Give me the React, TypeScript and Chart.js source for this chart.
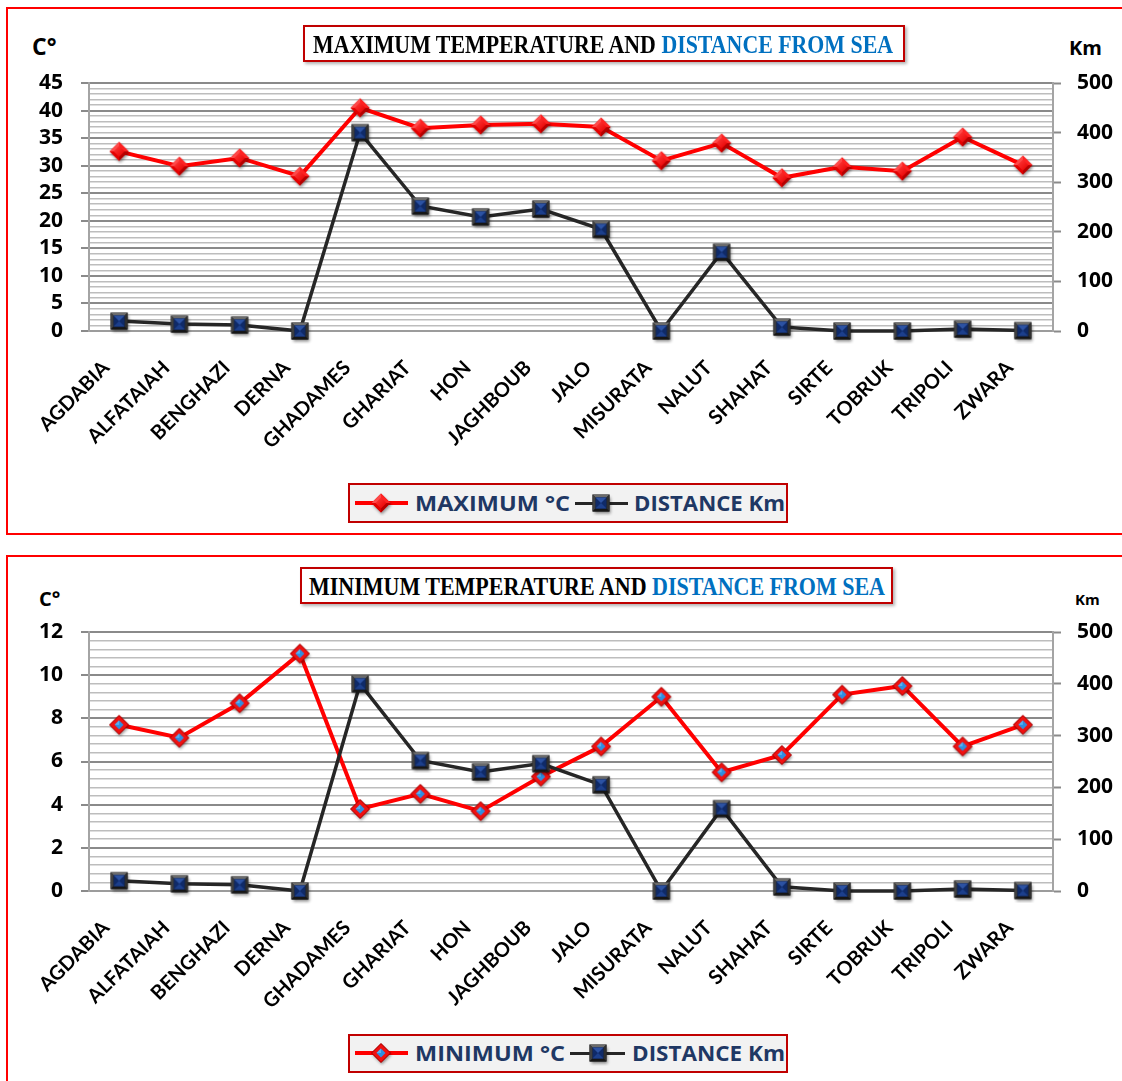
import React, { useEffect, useLayoutEffect, useMemo, useRef } from 'react';
import { Chart, registerables } from 'chart.js';

Chart.register(...registerables);

// ---------- DATA ----------
const cities = [
  'AGDABIA', 'ALFATAIAH', 'BENGHAZI', 'DERNA', 'GHADAMES', 'GHARIAT', 'HON', 'JAGHBOUB',
  'JALO', 'MISURATA', 'NALUT', 'SHAHAT', 'SIRTE', 'TOBRUK', 'TRIPOLI', 'ZWARA',
];
const maxTempC = [32.6, 29.9, 31.4, 28.1, 40.5, 36.8, 37.4, 37.6, 37.0, 30.9, 34.1, 27.8, 29.8, 29.0, 35.2, 30.1];
const minTempC = [7.7, 7.1, 8.7, 11.0, 3.8, 4.5, 3.7, 5.3, 6.7, 9.0, 5.5, 6.3, 9.1, 9.5, 6.7, 7.7];
const distanceKm = [20, 14, 12, 0, 400, 252, 230, 246, 205, 0, 159, 8, 0, 0, 4, 1];

const maxTempTicks = [0, 5, 10, 15, 20, 25, 30, 35, 40, 45];
const minTempTicks = [0, 2, 4, 6, 8, 10, 12];
const distanceTicks = [0, 100, 200, 300, 400, 500];

const FONT = 'Lato, "Open Sans", sans-serif';
const HEAVY = '"Open Sans", Lato, sans-serif';
const SERIF = '"Liberation Serif", "DejaVu Serif", serif';

type MarkerKind = 'diamond' | 'diamondBlue' | 'square';

function makeMarker(kind: MarkerKind): HTMLCanvasElement {
  const S = 26;
  const c = document.createElement('canvas');
  c.width = S;
  c.height = S;
  const g = c.getContext('2d')!;
  const cx = 13, cy = 13;
  const tri = (pts: number[], col: string) => {
    g.beginPath();
    g.moveTo(pts[0], pts[1]);
    for (let i = 2; i < pts.length; i += 2) g.lineTo(pts[i], pts[i + 1]);
    g.closePath();
    g.fillStyle = col;
    g.fill();
  };
  if (kind === 'square') {
    const h = 8.5;
    const x0 = cx - h, y0 = cy - h, x1 = cx + h, y1 = cy + h;
    g.save();
    g.shadowColor = 'rgba(0,0,0,0.45)';
    g.shadowBlur = 3;
    g.shadowOffsetX = 1;
    g.shadowOffsetY = 2;
    g.fillStyle = '#1c1c1c';
    g.fillRect(x0, y0, 2 * h, 2 * h);
    g.restore();
    const b = 3;
    tri([x0, y0, x1, y0, x1 - b, y0 + b, x0 + b, y0 + b], '#6b6b6b');
    tri([x0, y0, x0 + b, y0 + b, x0 + b, y1 - b, x0, y1], '#404040');
    tri([x1, y0, x1, y1, x1 - b, y1 - b, x1 - b, y0 + b], '#2e2e2e');
    tri([x0, y1, x0 + b, y1 - b, x1 - b, y1 - b, x1, y1], '#161616');
    const ix0 = x0 + b, iy0 = y0 + b, ix1 = x1 - b, iy1 = y1 - b;
    g.fillStyle = '#0f2a68';
    g.fillRect(ix0, iy0, ix1 - ix0, iy1 - iy0);
    tri([ix0, iy0, ix1, iy0, cx, cy], '#2c52a3');
    tri([ix0, iy1, ix1, iy1, cx, cy], '#1c3f8c');
    return c;
  }
  const r = 9.5;
  const dpath = (rr: number) => {
    g.beginPath();
    g.moveTo(cx, cy - rr);
    g.lineTo(cx + rr, cy);
    g.lineTo(cx, cy + rr);
    g.lineTo(cx - rr, cy);
    g.closePath();
  };
  g.save();
  g.shadowColor = 'rgba(0,0,0,0.4)';
  g.shadowBlur = 3;
  g.shadowOffsetX = 1;
  g.shadowOffsetY = 2;
  dpath(r);
  g.fillStyle = '#d40000';
  g.fill();
  g.restore();
  if (kind === 'diamond') {
    tri([cx - r, cy, cx, cy - r, cx, cy], '#ff4a4a');
    tri([cx, cy - r, cx + r, cy, cx, cy], '#ff2222');
    tri([cx - r, cy, cx, cy + r, cx, cy], '#e40000');
    tri([cx + r, cy, cx, cy + r, cx, cy], '#b50000');
    const gr = g.createLinearGradient(cx - 5, cy - 5, cx + 5, cy + 5);
    gr.addColorStop(0, '#ff3a3a');
    gr.addColorStop(1, '#e60000');
    dpath(5.5);
    g.fillStyle = gr;
    g.fill();
  } else {
    dpath(r);
    g.fillStyle = '#f01010';
    g.fill();
    g.lineWidth = 1;
    g.strokeStyle = '#a00000';
    g.stroke();
    dpath(4.5);
    g.fillStyle = '#2d8fe2';
    g.fill();
    tri([cx - 4.5, cy, cx, cy - 4.5, cx, cy], '#5ab0f0');
  }
  return c;
}

interface ChartProps {
  temps: number[];
  tempTicks: number[];
  minorStep: number;
  tempName: string;
  diamond: HTMLCanvasElement;
  square: HTMLCanvasElement;
  top: number;
  height: number;
}

function TempDistanceChart({ temps, tempTicks, minorStep, tempName, diamond, square, top, height }: ChartProps) {
  const ref = useRef<HTMLCanvasElement>(null);
  useEffect(() => {
    const isMajor = (v: number) => tempTicks.some((t) => Math.abs(t - v) < 1e-6);
    const isDist = (v: number) => distanceTicks.some((t) => Math.abs(t - v) < 1e-6);
    const tickFont = { family: HEAVY, weight: 'bold' as const, size: 21 };
    const noPadY = (s: any) => {
      s.paddingTop = 0;
      s.paddingBottom = 0;
    };
    const chart = new Chart(ref.current!, {
      type: 'line',
      data: {
        labels: cities,
        datasets: [
          {
            label: tempName,
            data: temps,
            yAxisID: 'yT',
            borderColor: '#ff0000',
            borderWidth: 4,
            pointStyle: diamond as any,
            pointRadius: 5,
            tension: 0,
            fill: false,
            clip: false as any,
            order: 2,
          },
          {
            label: 'DISTANCE Km',
            data: distanceKm,
            yAxisID: 'yD',
            borderColor: '#262626',
            borderWidth: 3.5,
            pointStyle: square as any,
            pointRadius: 5,
            tension: 0,
            fill: false,
            clip: false as any,
            order: 1,
          },
        ],
      },
      options: {
        responsive: false,
        animation: false,
        events: [],
        layout: { padding: { top: 20, left: 0, right: 0, bottom: 0 } },
        plugins: { legend: { display: false }, tooltip: { enabled: false }, title: { display: false } },
        scales: {
          x: {
            type: 'category',
            offset: true,
            grid: { display: false, drawTicks: false },
            border: { display: true, color: '#9c9c9c', width: 2 },
            ticks: {
              autoSkip: false,
              minRotation: 45,
              maxRotation: 45,
              padding: 25,
              labelOffset: -13,
              color: '#000',
              font: { family: FONT, weight: 'bold', size: 20 },
            },
            afterFit: (s: any) => {
              s.height = 139;
              s.paddingLeft = 0;
              s.paddingRight = 0;
            },
          },
          yT: {
            type: 'linear',
            position: 'left',
            min: tempTicks[0],
            max: tempTicks[tempTicks.length - 1],
            ticks: {
              stepSize: minorStep,
              autoSkip: false,
              padding: 18,
              color: '#000',
              font: tickFont,
              callback: (v: any) => (isMajor(Number(v)) ? String(Math.round(Number(v))) : ''),
            },
            grid: {
              color: (c: any) => (isMajor(c.tick.value) ? '#8a8a8a' : '#bdbdbd'),
              lineWidth: (c: any) => (isMajor(c.tick.value) ? 2 : 1.5),
              tickColor: (c: any) => (isMajor(c.tick.value) ? '#8a8a8a' : 'rgba(0,0,0,0)'),
              tickLength: 8,
              tickWidth: 2,
            },
            border: { display: true, color: '#a4a4a4', width: 2 },
            afterFit: (s: any) => {
              s.width = 69;
              noPadY(s);
            },
          },
          yD: {
            type: 'linear',
            position: 'right',
            min: distanceTicks[0],
            max: distanceTicks[distanceTicks.length - 1],
            ticks: {
              stepSize: 100,
              autoSkip: false,
              padding: 16,
              color: '#000',
              font: tickFont,
              callback: (v: any) => (isDist(Number(v)) ? String(v) : ''),
            },
            grid: {
              drawOnChartArea: false,
              tickColor: '#8a8a8a',
              tickLength: 8,
              tickWidth: 2,
            },
            border: { display: true, color: '#a4a4a4', width: 2 },
            afterFit: (s: any) => {
              s.width = 67;
              noPadY(s);
            },
          },
        },
      } as any,
    });
    return () => chart.destroy();
  }, []);
  return (
    <canvas
      ref={ref}
      width={1100}
      height={height}
      style={{ position: 'absolute', left: 20, top, width: 1100, height }}
    />
  );
}

function FitText({ width, left, centerY, size, family, color, children }: any) {
  const ref = useRef<HTMLSpanElement>(null);
  useLayoutEffect(() => {
    const el = ref.current!;
    el.style.transform = 'translateY(-50%)';
    const w = el.getBoundingClientRect().width;
    if (w > 0) el.style.transform = `translateY(-50%) scaleX(${width / w})`;
  }, []);
  return (
    <span
      ref={ref}
      style={{
        position: 'absolute',
        left,
        top: centerY,
        display: 'inline-block',
        whiteSpace: 'nowrap',
        transformOrigin: 'left center',
        transform: 'translateY(-50%)',
        fontFamily: family,
        fontWeight: 'bold',
        fontSize: size,
        lineHeight: 1,
        color,
      }}
    >
      {children}
    </span>
  );
}

function Abs({ left, top, size, children }: any) {
  return (
    <div
      style={{
        position: 'absolute',
        left,
        top,
        fontFamily: HEAVY,
        fontWeight: 'bold',
        fontSize: size,
        lineHeight: 1,
        color: '#000',
        whiteSpace: 'nowrap',
      }}
    >
      {children}
    </div>
  );
}

function Rect({ left, top, width, height, color }: any) {
  return <div style={{ position: 'absolute', left, top, width, height, background: color }} />;
}

export default function App() {
  const markers = useMemo(
    () => ({
      diamond: makeMarker('diamond'),
      diamondBlue: makeMarker('diamondBlue'),
      square: makeMarker('square'),
    }),
    []
  );
  const urls = useMemo(
    () => ({
      diamond: markers.diamond.toDataURL(),
      diamondBlue: markers.diamondBlue.toDataURL(),
      square: markers.square.toDataURL(),
    }),
    [markers]
  );
  const legendText = '#1F3864';
  const img = (src: string, cx: number, cy: number) => (
    <img src={src} style={{ position: 'absolute', left: cx - 13, top: cy - 13, width: 26, height: 26 }} />
  );
  const line = (x0: number, x1: number, y: number, w: number, col: string) => (
    <div style={{ position: 'absolute', left: x0, top: y - w / 2, width: x1 - x0, height: w, background: col }} />
  );
  return (
    <div
      style={{
        position: 'fixed',
        left: 0,
        top: 0,
        width: 1122,
        height: 1081,
        overflow: 'hidden',
        background: '#fff',
      }}
    >
      {/* panel frames */}
      <Rect left={6} top={7} width={1116} height={2} color="#ff0000" />
      <Rect left={6} top={7} width={2} height={528} color="#ff0000" />
      <Rect left={6} top={533} width={1116} height={2} color="#ff0000" />
      <Rect left={6} top={555} width={1116} height={2} color="#ff0000" />
      <Rect left={6} top={555} width={2} height={526} color="#ff0000" />

      <TempDistanceChart
        temps={maxTempC}
        tempTicks={maxTempTicks}
        minorStep={1}
        tempName="MAXIMUM °C"
        diamond={markers.diamond}
        square={markers.square}
        top={63}
        height={407}
      />
      <TempDistanceChart
        temps={minTempC}
        tempTicks={minTempTicks}
        minorStep={0.4}
        tempName="MINIMUM °C"
        diamond={markers.diamondBlue}
        square={markers.square}
        top={612}
        height={418}
      />

      {/* axis unit labels */}
      <Abs left={32} top={35} size={23}>C°</Abs>
      <Abs left={1069} top={38} size={20}>Km</Abs>
      <Abs left={39} top={589} size={20}>C°</Abs>
      <Abs left={1075} top={592} size={15}>Km</Abs>

      {/* titles */}
      <div style={{ position: 'absolute', left: 303, top: 25, width: 602, height: 37, border: '2px solid #C00000', boxSizing: 'border-box', background: '#fff', boxShadow: '2px 2px 3px rgba(0,0,0,0.3)' }} />
      <FitText width={580} left={313} centerY={44} size={25} family={SERIF} color="#000">
        MAXIMUM TEMPERATURE AND <span style={{ color: '#0070C0' }}>DISTANCE FROM SEA</span>
      </FitText>
      <div style={{ position: 'absolute', left: 300, top: 567, width: 593, height: 37, border: '2px solid #C00000', boxSizing: 'border-box', background: '#fff', boxShadow: '2px 2px 3px rgba(0,0,0,0.3)' }} />
      <FitText width={576} left={309} centerY={586} size={25} family={SERIF} color="#000">
        MINIMUM TEMPERATURE AND <span style={{ color: '#0070C0' }}>DISTANCE FROM SEA</span>
      </FitText>

      {/* legends */}
      <div style={{ position: 'absolute', left: 348, top: 483, width: 440, height: 40, border: '2px solid #C00000', boxSizing: 'border-box', background: '#F2F2F2' }} />
      {line(355, 408, 503, 4, '#ff0000')}
      {img(urls.diamond, 381, 503)}
      <FitText width={155} left={415} centerY={503} size={21} family={HEAVY} color={legendText}>MAXIMUM °C</FitText>
      {line(575, 628, 503, 3, '#262626')}
      {img(urls.square, 601, 503)}
      <FitText width={151} left={634} centerY={503} size={21} family={HEAVY} color={legendText}>DISTANCE Km</FitText>

      <div style={{ position: 'absolute', left: 348, top: 1034, width: 440, height: 39, border: '2px solid #C00000', boxSizing: 'border-box', background: '#F2F2F2' }} />
      {line(355, 408, 1053, 4, '#ff0000')}
      {img(urls.diamondBlue, 381, 1053)}
      <FitText width={150} left={415} centerY={1053} size={21} family={HEAVY} color={legendText}>MINIMUM °C</FitText>
      {line(570, 625, 1053, 3, '#262626')}
      {img(urls.square, 598, 1053)}
      <FitText width={153} left={632} centerY={1053} size={21} family={HEAVY} color={legendText}>DISTANCE Km</FitText>
    </div>
  );
}
